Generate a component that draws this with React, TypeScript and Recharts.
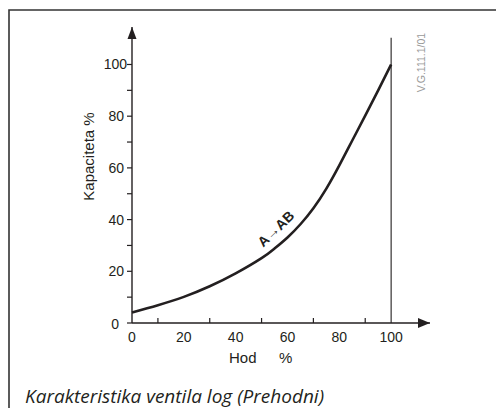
import { Customized, Line, LineChart, ReferenceDot, ReferenceLine, XAxis, YAxis } from "recharts";

const hod = [0, 10, 20, 30, 40, 50, 55, 60, 65, 70, 75, 80, 85, 90, 95, 100];
const kapaciteta = [4.1, 6.9, 10.1, 14.2, 19.2, 25.1, 28.8, 33.1, 38.2, 44.4, 52, 61, 70.6, 80.2, 90, 100];
const xTicks = [0, 10, 20, 30, 40, 50, 60, 70, 80, 90, 100];
const yTicks = [0, 10, 20, 30, 40, 50, 60, 70, 80, 90, 100];
const labeledTicks = [0, 20, 40, 60, 80, 100];

const INK = "#231f20";
const FONT = "'Liberation Sans', Arial, sans-serif";

const data = hod.map((h, i) => ({ hod: h, kap: kapaciteta[i] }));

// x ticks: labels on the even twenties, short upward marks on the odd tens
function XTick(props: any) {
  const { x, y, payload } = props;
  const v = payload.value;
  const axisY = y - 9;
  return (
    <g>
      {labeledTicks.includes(v) ? (
        <text x={x} y={y} dy="0.71em" textAnchor="middle" fontSize={14} fill={INK} fontFamily={FONT}>
          {v}
        </text>
      ) : (
        <line x1={x} x2={x} y1={axisY} y2={axisY - 5} stroke={INK} strokeWidth={1.2} />
      )}
    </g>
  );
}

function YTick(props: any) {
  const { x, y, payload } = props;
  const v = payload.value;
  if (!labeledTicks.includes(v)) return <g />;
  const gap = v === 100 ? 0 : v === 0 ? 8 : 3;
  return (
    <text x={x - gap} y={y + (v === 0 ? 1 : 0)} dy="0.355em" textAnchor="end" fontSize={14} fill={INK} fontFamily={FONT}>
      {v}
    </text>
  );
}

function upArrow(props: any) {
  const { cx, cy } = props;
  return <path d={`M${cx},${cy} L${cx - 4.5},${cy + 12} L${cx + 4.5},${cy + 12} Z`} fill={INK} />;
}

function rightArrow(props: any) {
  const { cx, cy } = props;
  return <path d={`M${cx},${cy} L${cx - 12},${cy - 5} L${cx - 12},${cy + 5} Z`} fill={INK} />;
}

function curveLabel(props: any) {
  const { cx, cy } = props;
  return (
    <text
      x={cx}
      y={cy}
      textAnchor="middle"
      dominantBaseline="central"
      fontSize={14}
      fontWeight="bold"
      fill={INK}
      fontFamily={FONT}
      transform={`rotate(-44, ${cx}, ${cy})`}
    >
      A→AB
    </text>
  );
}

export default function App() {
  return (
    <div style={{ position: "absolute", left: 0, top: 0, width: 496, height: 408, background: "#fff" }}>
      <LineChart width={496} height={408} data={data} margin={{ top: 27, right: 66, left: 0, bottom: 55 }}>
        <Customized
          component={
            <g>
              <path d="M9,408 L9,10 L496,10" fill="none" stroke="#333" strokeWidth={1.6} />
              <text
                x={424.5}
                y={62.5}
                textAnchor="middle"
                fontSize={10.5}
                fill="#9a9a9a"
                fontFamily={FONT}
                transform="rotate(-90, 424.5, 62.5)"
              >
                V.G.111.1/01
              </text>
              <text x={25} y={403} fontSize={19} fontStyle="italic" fill={INK} fontFamily="'Open Sans', 'Noto Sans', sans-serif">
                Karakteristika ventila log (Prehodni)
              </text>
            </g>
          }
        />
        <XAxis
          dataKey="hod"
          type="number"
          domain={[0, 115]}
          ticks={xTicks}
          interval={0}
          tickLine={false}
          tickSize={5}
          tickMargin={4}
          tick={<XTick />}
          height={30}
          axisLine={{ stroke: INK, strokeWidth: 1.4 }}
          label={{
            content: (p: any) => {
              const vb = p.viewBox;
              return (
                <g fontSize={15} fill={INK} fontFamily={FONT}>
                  <text x={vb.x + 97} y={vb.y + 40}>Hod</text>
                  <text x={vb.x + 147} y={vb.y + 40}>%</text>
                </g>
              );
            },
          }}
        />
        <YAxis
          type="number"
          domain={[0, 114.5]}
          ticks={yTicks}
          interval={0}
          width={132}
          tickSize={5}
          tickMargin={0}
          tick={<YTick />}
          tickLine={{ stroke: INK, strokeWidth: 1.2 }}
          axisLine={{ stroke: INK, strokeWidth: 1.4 }}
          label={{
            content: () => (
              <text
                x={94}
                y={156.5}
                textAnchor="middle"
                fontSize={15}
                fill={INK}
                fontFamily={FONT}
                transform="rotate(-90, 94, 156.5)"
              >
                Kapaciteta %
              </text>
            ),
          }}
        />
        <ReferenceLine
          segment={[
            { x: 100, y: 0 },
            { x: 100, y: 110.3 },
          ]}
          stroke={INK}
          strokeWidth={1.1}
          ifOverflow="visible"
        />
        <Line
          type="natural"
          dataKey="kap"
          stroke={INK}
          strokeWidth={2.6}
          dot={false}
          isAnimationActive={false}
        />
        <ReferenceDot x={0} y={114.5} r={0} shape={upArrow} ifOverflow="visible" />
        <ReferenceDot x={115} y={0} r={0} shape={rightArrow} ifOverflow="visible" />
        <ReferenceDot x={55.5} y={36.5} r={0} shape={curveLabel} ifOverflow="visible" />
      </LineChart>
    </div>
  );
}
